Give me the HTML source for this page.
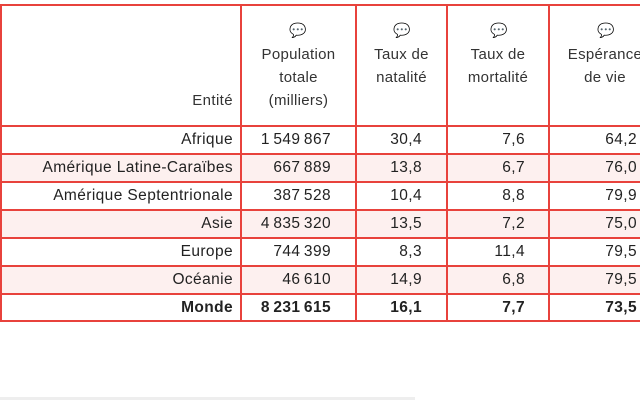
<!DOCTYPE html>
<html><head><meta charset="utf-8"><style>
html,body{margin:0;padding:0;background:#fff;width:640px;height:400px;overflow:hidden;font-family:"Liberation Sans",sans-serif;color:#222;}
.c{position:absolute;font-size:15.5px;letter-spacing:0.4px;white-space:nowrap;}
.r{text-align:right;}
.hl{position:absolute;height:2px;background:#e8423c;}
.vl{position:absolute;width:2px;background:#e8423c;}
.bg{position:absolute;background:#fdf0ef;height:26px;left:2px;width:640px;}
.h{position:absolute;font-size:15px;text-align:center;line-height:23px;color:#333;letter-spacing:0.3px;}
.ic{position:absolute;font-size:14px;color:#333;}
</style></head><body>
<div class="bg" style="top:155px"></div>
<div class="bg" style="top:211px"></div>
<div class="bg" style="top:267px"></div>

<div class="hl" style="left:0;width:640px;top:4px"></div>
<div class="hl" style="left:0;width:640px;top:125px"></div>
<div class="hl" style="left:0;width:640px;top:153px"></div>
<div class="hl" style="left:0;width:640px;top:181px"></div>
<div class="hl" style="left:0;width:640px;top:209px"></div>
<div class="hl" style="left:0;width:640px;top:237px"></div>
<div class="hl" style="left:0;width:640px;top:265px"></div>
<div class="hl" style="left:0;width:640px;top:293px"></div>
<div class="hl" style="left:0;width:640px;top:320px"></div>
<div class="vl" style="left:0;top:4px;height:318px"></div>
<div class="vl" style="left:240px;top:4px;height:318px"></div>
<div class="vl" style="left:355px;top:4px;height:318px"></div>
<div class="vl" style="left:446px;top:4px;height:318px"></div>
<div class="vl" style="left:548px;top:4px;height:318px"></div>
<div style="position:absolute;left:0;top:397px;width:415px;height:3px;background:#eeeeee"></div>

<div class="c r" style="right:407px;top:92px;font-size:15px;color:#333">Entité</div>
<div class="ic" style="left:289px;top:22px">💬</div>
<div class="h" style="left:242px;width:113px;top:43px">Population<br>totale<br>(milliers)</div>
<div class="ic" style="left:393px;top:22px">💬</div>
<div class="h" style="left:357px;width:89px;top:43px">Taux de<br>natalité</div>
<div class="ic" style="left:490px;top:22px">💬</div>
<div class="h" style="left:448px;width:100px;top:43px">Taux de<br>mortalité</div>
<div class="ic" style="left:597px;top:22px">💬</div>
<div class="h" style="left:550px;width:110px;top:43px">Espérance<br>de vie</div>

<div id="rows"></div>
<script>
var d=[["Afrique","1549867","30,4","7,6","64,2"],["Amérique Latine-Caraïbes","667889","13,8","6,7","76,0"],["Amérique Septentrionale","387528","10,4","8,8","79,9"],["Asie","4835320","13,5","7,2","75,0"],["Europe","744399","8,3","11,4","79,5"],["Océanie","46610","14,9","6,8","79,5"],["Monde","8231615","16,1","7,7","73,5"]];
var rights=[407,309,218,115,3];var h="";
for(var i=0;i<d.length;i++){var t=131+i*28;var b=i==6?"font-weight:bold;":"";
for(var j=0;j<5;j++){var s=d[i][j];if(j==1)s=s.replace(/(\d)(?=(\d{3})+$)/g,"$1\u2009");
h+='<div class="c r" style="'+b+'right:'+rights[j]+'px;top:'+t+'px">'+s+'</div>';}}
document.getElementById("rows").innerHTML=h;
</script>
</body></html>
